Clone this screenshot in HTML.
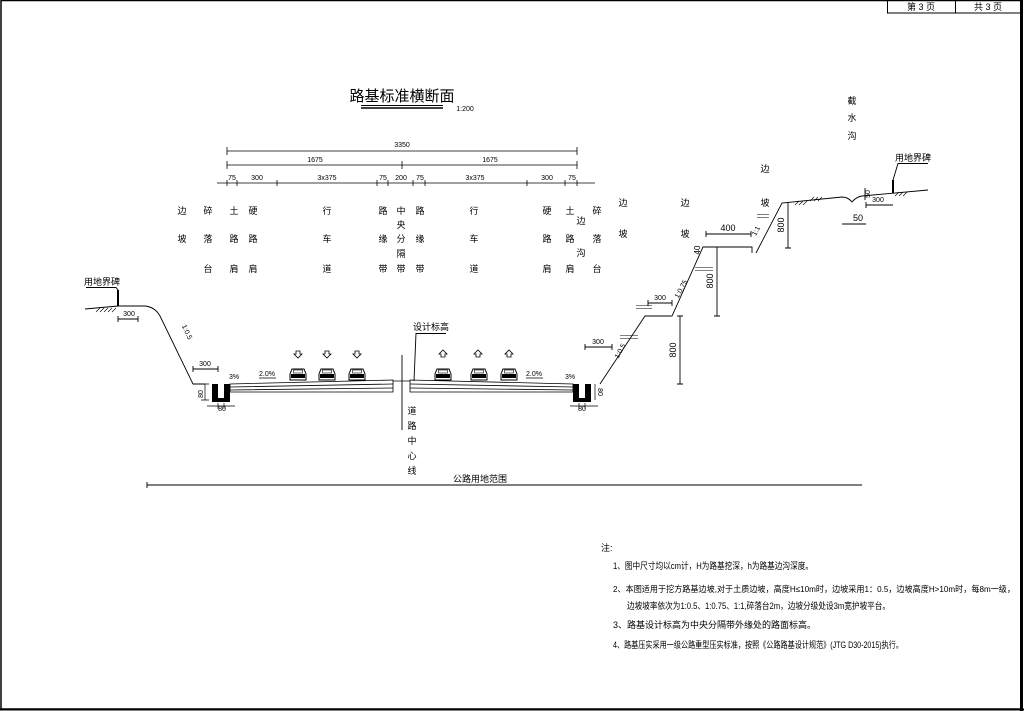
<!DOCTYPE html>
<html><head><meta charset="utf-8"><style>
html,body{margin:0;padding:0;background:#fff}
svg{display:block}
text{font-family:"Liberation Sans","Noto Sans CJK SC",sans-serif;fill:#000}
.s{font-size:9px}
.d{font-size:7px}
</style></head><body>
<svg width="1024" height="711" viewBox="0 0 1024 711" xmlns="http://www.w3.org/2000/svg">
<g fill="none" stroke="#000">
<rect x="1" y="0.5" width="1020" height="708.5" stroke-width="1.5"/>
<line x1="1021.5" y1="0" x2="1021.5" y2="711" stroke-width="3"/>
<line x1="0" y1="709.5" x2="1024" y2="709.5" stroke-width="2"/>
<rect x="887.5" y="0" width="134" height="13" stroke-width="1"/>
<line x1="955.5" y1="0" x2="955.5" y2="13"/>
</g>
<text x="921" y="10" font-size="9" text-anchor="middle">第 3 页</text>
<text x="988" y="10" font-size="9" text-anchor="middle">共 3 页</text>

<text x="402" y="101" font-size="15" text-anchor="middle">路基标准横断面</text>
<line x1="361" y1="105.5" x2="443" y2="105.5" stroke="#000"/>
<line x1="361" y1="108" x2="443" y2="108" stroke="#000" stroke-width="1.5"/>
<text x="465" y="111" class="d" text-anchor="middle">1:200</text>

<g stroke="#000" stroke-width="0.8" fill="none">
<line x1="227" y1="151" x2="577" y2="151"/>
<line x1="227" y1="147" x2="227" y2="155"/><line x1="577" y1="147" x2="577" y2="155"/>
<line x1="227" y1="165" x2="577" y2="165"/>
<line x1="227" y1="161" x2="227" y2="169"/><line x1="402" y1="161" x2="402" y2="169"/><line x1="577" y1="161" x2="577" y2="169"/>
<line x1="217" y1="183" x2="595" y2="183"/>
<g>
<line x1="227" y1="180" x2="227" y2="186"/><line x1="237" y1="180" x2="237" y2="186"/><line x1="277" y1="180" x2="277" y2="186"/><line x1="377" y1="180" x2="377" y2="186"/><line x1="388" y1="180" x2="388" y2="186"/><line x1="413" y1="180" x2="413" y2="186"/><line x1="425" y1="180" x2="425" y2="186"/><line x1="527" y1="180" x2="527" y2="186"/><line x1="565" y1="180" x2="565" y2="186"/><line x1="577" y1="180" x2="577" y2="186"/>
</g>
</g>
<g class="d" text-anchor="middle">
<text x="402" y="147">3350</text>
<text x="315" y="162">1675</text><text x="490" y="162">1675</text>
<text x="232" y="180">75</text><text x="257" y="180">300</text><text x="327" y="180">3x375</text><text x="383" y="180">75</text><text x="401" y="180">200</text><text x="420" y="180">75</text><text x="475" y="180">3x375</text><text x="547" y="180">300</text><text x="572" y="180">75</text>
</g>

<g class="s" text-anchor="middle">
<text x="182" y="214">边</text><text x="182" y="242">坡</text>
<text x="208" y="214">碎</text><text x="208" y="242">落</text><text x="208" y="272">台</text>
<text x="234" y="214">土</text><text x="234" y="242">路</text><text x="234" y="272">肩</text>
<text x="253" y="214">硬</text><text x="253" y="242">路</text><text x="253" y="272">肩</text>
<text x="327" y="214">行</text><text x="327" y="242">车</text><text x="327" y="272">道</text>
<text x="383" y="214">路</text><text x="383" y="242">缘</text><text x="383" y="272">带</text>
<text x="401" y="214">中</text><text x="401" y="228">央</text><text x="401" y="242">分</text><text x="401" y="257">隔</text><text x="401" y="272">带</text>
<text x="420" y="214">路</text><text x="420" y="242">缘</text><text x="420" y="272">带</text>
<text x="474" y="214">行</text><text x="474" y="242">车</text><text x="474" y="272">道</text>
<text x="547" y="214">硬</text><text x="547" y="242">路</text><text x="547" y="272">肩</text>
<text x="570" y="214">土</text><text x="570" y="242">路</text><text x="570" y="272">肩</text>
<text x="581" y="224">边</text><text x="581" y="256">沟</text>
<text x="597" y="214">碎</text><text x="597" y="242">落</text><text x="597" y="272">台</text>
<text x="623" y="206">边</text><text x="623" y="237">坡</text>
<text x="685" y="206">边</text><text x="685" y="237">坡</text>
<text x="765" y="172">边</text><text x="765" y="206">坡</text>
<text x="852" y="104">截</text><text x="852" y="121">水</text><text x="852" y="139">沟</text>
<text x="412" y="414">道</text><text x="412" y="429">路</text><text x="412" y="444">中</text><text x="412" y="459">心</text><text x="412" y="474">线</text>
</g>

<g fill="none" stroke="#000" stroke-width="0.9">
<path d="M85,309 L118,306 L145,306 Q155,307 160,316 L193,384 L205,384"/>
<path d="M600,384 L645,316 L672,316 L703,247 L752,247 L752,253"/>
<path d="M756,253 L782,203 L842,197 Q848,197 852,202 Q856,197 862,196 L928,190"/>
<line x1="118" y1="290" x2="118" y2="306" stroke-width="2"/>
<path d="M86,287.5 L116,287.5 L118,290"/>
<line x1="893" y1="180" x2="893" y2="193" stroke-width="2"/>
<path d="M893,180 L898,163.5 L928,163.5"/>
<path d="M96,312 l4,-4 m0,4 l4,-4 m0,4 l4,-4 m0,4 l4,-4 m0,4 l4,-4" stroke-width="0.6"/>
<path d="M895,196 l4,-4 m0,4 l4,-4 m0,4 l4,-4" stroke-width="0.6"/>
<path d="M795,205 l4,-4 m0,4 l4,-4 m0,4 l4,-4 m3,0 l4,-4 m0,4 l4,-4 m0,4 l4,-4" stroke-width="0.6"/>
<path d="M118,319 H138 M118,316 V322 M138,316 V322"/>
<path d="M193,369 H218 M193,366 V372 M218,366 V372"/>
<path d="M648,303 H672 M648,300 V306 M672,300 V306"/>
<path d="M585,347 H612 M585,344 V350 M612,344 V350"/>
<path d="M680,316 V384 M677,316 H683 M677,384 H683"/>
<path d="M717,247 V316 M714,316 H720"/>
<path d="M706,234 H751 M706,231 V237 M751,231 V237"/>
<path d="M788,203 V248 M785,248 H791"/>
<path d="M866,205 H893 M866,202 V208"/>
<path d="M842,224 H866"/>
<path d="M865,188 V200"/>
<g stroke-width="0.5">
<path d="M620,335.5 h18 M620,338.5 h18 M636,305.5 h16 M636,308.5 h16 M695,267.5 h18 M695,270.5 h18 M757,214.5 h12 M757,217.5 h12"/>
</g>
<line x1="402" y1="355" x2="402" y2="430"/>
<path d="M446,333.5 H416 L414,381"/>
<line x1="147" y1="485" x2="862" y2="485"/>
<line x1="147" y1="482" x2="147" y2="488"/>
</g>

<g fill="none" stroke="#000" stroke-width="0.8">
<path d="M230,384 L393,380 L393,392 L230,392 Z"/>
<path d="M230,387 L393,384 M230,390 L393,388"/>
<path d="M410,380 L573,384 L573,392 L410,392 Z"/>
<path d="M410,384 L573,387 M410,388 L573,390"/>
<path d="M393,381 L410,381"/>
</g>
<g fill="#000">
<path d="M212,384 h6 v14 h6 v-14 h6 v18 h-18z"/>
<path d="M573,384 h6 v14 h6 v-14 h6 v18 h-18z"/>
</g>
<g fill="none" stroke="#000" stroke-width="0.7">
<path d="M205,384 V400 M201,384 H209 M201,400 H209"/>
<path d="M207,406 H235 M218,403 V409 M224,403 V409"/>
<path d="M595,384 V400"/>
<path d="M570,406 H598 M579,403 V409 M585,403 V409"/>
</g>
<g class="d" text-anchor="middle">
<text x="203" y="394" transform="rotate(-90 203 394)">80</text>
<text x="222" y="411">80</text>
<text x="598" y="392" transform="rotate(90 598 392)">80</text>
<text x="582" y="411">80</text>
<text x="129" y="316">300</text>
<text x="205" y="366">300</text>
<text x="660" y="300">300</text>
<text x="598" y="344">300</text>
<text x="728" y="231" font-size="9">400</text>
<text x="878" y="202">300</text>
<text x="858" y="221" font-size="9">50</text>
<text x="870" y="194" transform="rotate(-90 870 194)">50</text>
<text x="676" y="350" font-size="9" transform="rotate(-90 676 350)">800</text>
<text x="713" y="281" font-size="9" transform="rotate(-90 713 281)">800</text>
<text x="784" y="225" font-size="9" transform="rotate(-90 784 225)">800</text>
<text x="700" y="250" font-size="8" transform="rotate(-90 700 250)">40</text>
<text x="185" y="333" transform="rotate(65 185 333)">1:0.5</text>
<text x="622" y="352" transform="rotate(-62 622 352)">1:0.5</text>
<text x="683" y="290" transform="rotate(-62 683 290)">1:0.75</text>
<text x="758" y="232" transform="rotate(-62 758 232)">1:1</text>
<text x="267" y="376">2.0%</text>
<text x="534" y="376">2.0%</text>
<text x="234" y="379">3%</text>
<text x="570" y="379">3%</text>
</g>
<g stroke="#000" stroke-width="0.7">
<line x1="259" y1="378" x2="276" y2="378"/>
<line x1="526" y1="378" x2="543" y2="378"/>
</g>
<text x="431" y="330" class="s" text-anchor="middle">设计标高</text>
<text x="102" y="285" class="s" text-anchor="middle">用地界碑</text>
<text x="913" y="161" class="s" text-anchor="middle">用地界碑</text>
<text x="480" y="482" class="s" text-anchor="middle">公路用地范围</text>

<defs>
<g id="car"><path d="M-8,12 V6 L-6,1 H6 L8,6 V12 Z" fill="#fff" stroke="#000"/><rect x="-7" y="6" width="14" height="4" fill="#000"/><rect x="-4.5" y="2" width="9" height="3" fill="none" stroke="#000" stroke-width="0.6"/></g>
<path id="ad" d="M-2,-3 H2 V0 H4 L0,4 L-4,0 H-2 Z" fill="#fff" stroke="#000" stroke-width="0.8"/>
<path id="au" d="M-2,3 H2 V0 H4 L0,-4 L-4,0 H-2 Z" fill="#fff" stroke="#000" stroke-width="0.8"/>
</defs>
<use href="#car" x="298" y="368"/><use href="#car" x="327" y="368"/><use href="#car" x="357" y="368"/>
<use href="#car" x="443" y="368"/><use href="#car" x="479" y="368"/><use href="#car" x="509" y="368"/>
<use href="#ad" x="298" y="354"/><use href="#ad" x="327" y="354"/><use href="#ad" x="357" y="354"/>
<use href="#au" x="443" y="354"/><use href="#au" x="478" y="354"/><use href="#au" x="509" y="354"/>

<g font-size="9">
<text x="601" y="551">注:</text>
<text x="613" y="569" textLength="200" lengthAdjust="spacingAndGlyphs">1、图中尺寸均以cm计，H为路基挖深，h为路基边沟深度。</text>
<text x="613" y="592" font-size="8.5" textLength="402" lengthAdjust="spacingAndGlyphs">2、本图适用于挖方路基边坡,对于土质边坡，高度H≤10m时，边坡采用1：0.5，边坡高度H&gt;10m时，每8m一级，</text>
<text x="627" y="609" textLength="263" lengthAdjust="spacingAndGlyphs">边坡坡率依次为1:0.5、1:0.75、1:1,碎落台2m，边坡分级处设3m宽护坡平台。</text>
<text x="613" y="628">3、路基设计标高为中央分隔带外缘处的路面标高。</text>
<text x="613" y="648" textLength="290" lengthAdjust="spacingAndGlyphs">4、路基压实采用一级公路重型压实标准，按照《公路路基设计规范》(JTG D30-2015)执行。</text>
</g>
</svg>
</body></html>
